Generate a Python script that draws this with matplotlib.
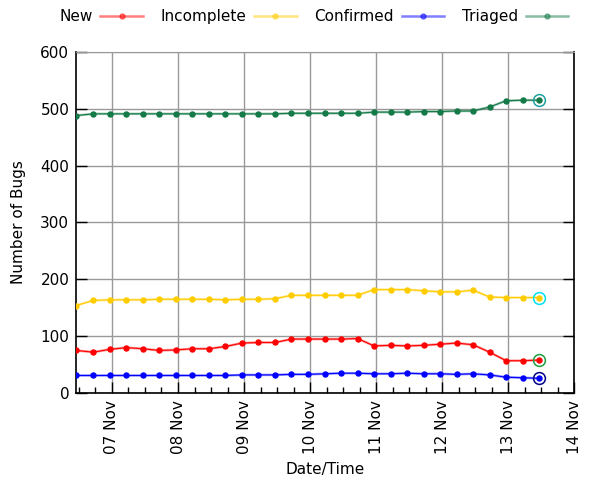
import matplotlib
matplotlib.use("Agg")
import matplotlib.pyplot as plt
import matplotlib.dates as mdates
import pandas as pd

times = ["2013-11-06 11:00", "2013-11-06 17:15", "2013-11-06 23:15",
         "2013-11-07 05:15", "2013-11-07 11:15", "2013-11-07 17:15", "2013-11-07 23:15",
         "2013-11-08 05:15", "2013-11-08 11:15", "2013-11-08 17:15", "2013-11-08 23:15",
         "2013-11-09 05:15", "2013-11-09 11:15", "2013-11-09 17:15", "2013-11-09 23:15",
         "2013-11-10 05:15", "2013-11-10 11:15", "2013-11-10 17:15", "2013-11-10 23:15",
         "2013-11-11 05:15", "2013-11-11 11:15", "2013-11-11 17:15", "2013-11-11 23:15",
         "2013-11-12 05:15", "2013-11-12 11:15", "2013-11-12 17:15", "2013-11-12 23:15",
         "2013-11-13 05:15", "2013-11-13 11:15"]

new = [75, 72, 77, 80, 78, 75, 76, 78, 78, 82, 88, 89, 89, 95, 95, 95, 95, 96,
       83, 84, 83, 84, 86, 88, 85, 72, 57, 57, 58]
incomplete = [154, 163, 164, 164, 164, 165, 165, 165, 165, 164, 165, 165, 166,
              172, 172, 172, 172, 172, 182, 182, 182, 180, 178, 178, 181, 169, 168, 168, 168]
confirmed = [31, 31, 31, 31, 31, 31, 31, 31, 31, 31, 32, 32, 32, 33, 33, 34, 35, 35,
             34, 34, 35, 34, 34, 33, 34, 32, 28, 27, 26]
triaged = [488, 491, 491, 491, 491, 491, 491, 491, 491, 491, 491, 491, 491,
           492, 492, 492, 492, 492, 494, 494, 494, 495, 495, 496, 496, 503, 514, 515, 515]

series_names = ["New", "Incomplete", "Confirmed", "Triaged"]
series_colors = ["#ff0000", "#ffcc00", "#0000ff", "#137a48"]
ring_colors = ["#1e9e3e", "#00e0f0", "#000080", "#20a0a0"]
x_end = "2013-11-14 00:00"

t = pd.to_datetime(times)

fig = plt.figure(figsize=(6, 4.8), dpi=100)
ax = fig.add_axes([0.127, 0.181, 0.830, 0.711])

handles = []
for vals, name, col, rc in zip([new, incomplete, confirmed, triaged], series_names,
                               series_colors, ring_colors):
    ax.plot(t, vals, color=col, lw=1.8, alpha=0.4, zorder=3)
    ax.plot(t, vals, color=col, lw=0.8, marker="o", ms=3.6, mec=col, mfc=col, zorder=4)
    ax.plot(t[-1:], vals[-1:], ls="none", marker="o", ms=8.5, mfc="none", mec=rc, mew=1.1, zorder=5)
    h, = ax.plot([], [], color=col, lw=1.8, alpha=0.5, marker="o", ms=3.6, mfc=col, mec=col)
    handles.append(h)

ax.set_xlim(t[0], pd.Timestamp(x_end))
ax.set_ylim(0, 600)
ax.set_yticks(range(0, 601, 100))
ax.xaxis.set_major_locator(mdates.DayLocator())
ax.xaxis.set_minor_locator(mdates.HourLocator(byhour=[0, 6, 12, 18]))
ax.xaxis.set_major_formatter(mdates.DateFormatter("%d %b"))
for lbl in ax.get_xticklabels():
    lbl.set_rotation(90)
ax.tick_params(axis="both", which="major", direction="in", length=8, width=1,
               right=True, labelsize=11, pad=5)
ax.tick_params(axis="x", which="minor", direction="in", length=4, width=1)
ax.grid(True, which="major", color="#999999", lw=1)
for s in ["left", "bottom", "right"]:
    ax.spines[s].set_linewidth(1.2)
ax.spines["top"].set_color("#999999")
ax.set_xlabel("Date/Time", fontsize=11, labelpad=6)
ax.set_ylabel("Number of Bugs", fontsize=11, labelpad=10)

fig.legend(handles, series_names, loc="center", bbox_to_anchor=(0.523, 0.965), ncol=4,
           frameon=False, markerfirst=False, fontsize=11, handlelength=2.8,
           columnspacing=1.15, handletextpad=0.5)

fig.savefig("out.png", dpi=100)
